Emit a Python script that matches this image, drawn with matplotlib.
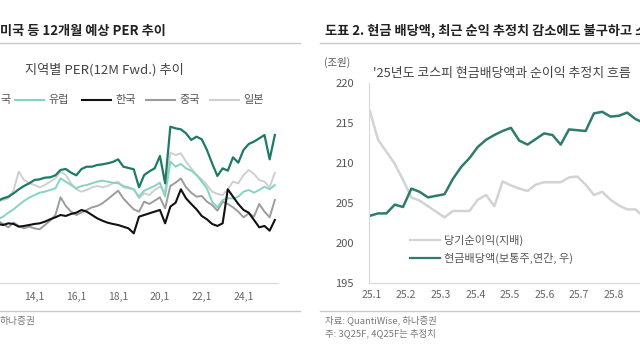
import matplotlib
matplotlib.use("Agg")
import matplotlib.pyplot as plt
from matplotlib.lines import Line2D
import numpy as np
import pandas as pd

plt.rcParams['font.family'] = ['Noto Sans CJK KR', 'DejaVu Sans']

# ---- left chart: 12M forward PER by region (quarterly, from 2012.2Q) ----
per_us = [12.29, 12.58, 12.79, 13.21, 13.71, 14.13, 14.46, 14.88, 14.96, 15.17, 15.21, 15.46,
          16.13, 16.25, 15.79, 15.46, 16.25, 16.54, 16.54, 16.75, 16.83, 16.96, 17.13, 17.46,
          16.54, 16.38, 16.21, 13.96, 15.50, 15.96, 16.33, 17.88, 14.46, 21.54, 21.33, 21.21,
          20.71, 19.88, 20.29, 19.96, 18.63, 16.96, 15.38, 16.33, 16.04, 17.71, 17.04, 18.63,
          19.38, 19.67, 20.08, 20.50, 17.46, 20.50]
per_eu = [9.96, 10.29, 10.79, 11.21, 11.75, 12.25, 12.67, 13.00, 13.29, 13.42, 13.63, 13.83,
          15.08, 14.67, 14.25, 13.83, 14.13, 14.25, 14.46, 14.67, 14.79, 14.67, 14.54, 14.46,
          14.13, 13.96, 13.71, 12.79, 13.54, 13.83, 14.13, 14.54, 12.79, 17.17, 16.54, 16.88,
          16.33, 16.04, 15.50, 14.67, 13.83, 12.17, 11.46, 12.38, 12.58, 12.58, 12.79, 13.42,
          13.63, 13.29, 13.63, 14.04, 13.71, 14.25]
per_kr = [9.38, 9.25, 9.46, 9.38, 9.04, 9.13, 9.25, 9.38, 9.46, 9.67, 9.96, 10.21,
          10.50, 10.38, 10.63, 10.79, 11.13, 10.92, 10.50, 10.08, 9.79, 9.54, 9.38, 9.25,
          9.04, 8.83, 8.21, 10.29, 10.50, 10.71, 10.92, 11.13, 9.46, 11.54, 12.04, 13.71,
          12.58, 11.88, 11.21, 10.38, 9.96, 9.38, 9.13, 9.46, 13.71, 12.79, 11.88, 11.13,
          10.79, 9.88, 8.96, 9.13, 8.54, 9.88]
per_cn = [9.79, 9.38, 8.96, 9.54, 9.13, 8.83, 9.04, 8.83, 8.71, 9.25, 9.79, 10.50,
          12.71, 11.63, 10.92, 10.50, 10.79, 11.13, 11.46, 11.63, 11.96, 12.46, 13.00, 13.54,
          12.58, 11.88, 11.21, 10.92, 12.17, 11.88, 12.29, 12.71, 11.33, 14.13, 14.54, 15.08,
          13.96, 13.29, 12.79, 12.88, 12.17, 11.75, 11.04, 12.17, 11.88, 11.46, 10.92, 10.21,
          10.71, 10.29, 11.88, 10.92, 10.21, 12.38]
per_jp = [12.17, 12.38, 12.58, 13.63, 15.92, 14.88, 14.46, 14.25, 13.96, 14.25, 14.67, 15.08,
          15.92, 15.50, 14.46, 13.71, 13.42, 13.63, 13.96, 14.13, 13.96, 14.13, 14.46, 14.67,
          13.96, 13.83, 13.71, 12.58, 13.21, 13.00, 13.63, 14.04, 13.42, 18.29, 18.00, 18.21,
          17.17, 16.33, 15.50, 14.96, 14.25, 13.42, 13.13, 13.00, 13.71, 14.67, 14.46, 15.50,
          16.13, 15.63, 14.88, 14.67, 13.96, 15.79]
region_names = ['유럽', '한국', '중국', '일본']
left_ticks = ['14,1', '16,1', '18,1', '20,1', '22,1', '24,1']

# ---- right chart: 2025 KOSPI estimates, weekly (조원) ----
net_income = [216.5, 212.9, 211.4, 209.9, 207.9, 205.7, 205.3, 204.6, 203.9, 203.2, 204.0, 204.0,
              204.0, 205.4, 206.0, 204.6, 207.7, 207.2, 206.8, 206.5, 207.3, 207.6, 207.6, 207.6,
              208.2, 208.3, 207.3, 206.0, 206.4, 205.4, 204.7, 204.2, 204.2, 203.3]
dividend = [203.4, 203.7, 203.7, 204.8, 204.5, 206.8, 206.4, 205.7, 205.9, 206.1, 208.0, 209.5,
            210.6, 212.0, 212.9, 213.5, 214.0, 214.4, 212.8, 212.3, 213.0, 213.7, 213.5, 212.3,
            214.2, 214.1, 214.0, 216.2, 216.4, 215.8, 215.9, 216.3, 215.5, 215.0]
right_ticks = ['25.1', '25.2', '25.3', '25.4', '25.5', '25.6', '25.7', '25.8']

c_us, c_eu, c_kr, c_cn, c_jp = '#1d7a68', '#86d3c4', '#111111', '#9c9c9c', '#cfcfcf'
c_div, c_ni = '#2f7b6d', '#d3d3d3'
txt = '#555555'

W, H = 640, 360
fig = plt.figure(figsize=(6.4, 3.6), dpi=100, facecolor='white')


def fx(x):
    return x / W


def fy(y):
    return 1 - y / H


def hline(x0, x1, y, color, lw):
    fig.add_artist(Line2D([fx(x0), fx(x1)], [fy(y), fy(y)], color=color, lw=lw,
                          transform=fig.transFigure))


# titles and separators
fig.text(fx(0), fy(31), '미국 등 12개월 예상 PER 추이', fontsize=9.5, fontweight='bold',
         color='#222222', va='center', ha='left')
fig.text(fx(325), fy(31), '도표 2. 현금 배당액, 최근 순익 추정치 감소에도 불구하고 소',
         fontsize=9.5, fontweight='bold', color='#222222', va='center', ha='left')
for x0, x1 in [(0, 300), (320, 640)]:
    hline(x0, x1, 43, '#c8c8c8', 1.0)
    hline(x0, x1, 311, '#c8c8c8', 1.0)

# ---- left chart ----
dates = pd.date_range('2012-04-01', periods=len(per_us), freq='QS')
ax1 = fig.add_axes([0, fy(283), 278 / W, 173 / H])
ax1.plot(dates, per_jp, color=c_jp, lw=1.4)
ax1.plot(dates, per_cn, color=c_cn, lw=1.4)
ax1.plot(dates, per_eu, color=c_eu, lw=1.4)
ax1.plot(dates, per_kr, color=c_kr, lw=1.5)
ax1.plot(dates, per_us, color=c_us, lw=1.6)
ax1.set_xlim(pd.Timestamp('2012-05-08'), pd.Timestamp('2025-08-25'))
ax1.set_ylim(2, 2 + 173 / 8)
ax1.set_xticks([pd.Timestamp(f'20{t[:2]}-01-01') for t in left_ticks])
ax1.set_xticklabels(left_ticks)
ax1.set_yticks([])
ax1.tick_params(axis='x', length=0, pad=6.5, labelsize=7.5, labelcolor='#666666')
for s in ['top', 'left', 'right']:
    ax1.spines[s].set_visible(False)
ax1.spines['bottom'].set_color('#d9d9d9')
ax1.spines['bottom'].set_linewidth(0.8)

fig.text(fx(25), fy(70), '지역별 PER(12M Fwd.) 추이', fontsize=9.5, color='#444444',
         va='center', ha='left')
fig.text(fx(0), fy(100), '국', fontsize=8, color=txt, va='center', ha='left')
leg_items = [(15, c_eu), (82, c_kr), (146, c_cn), (210, c_jp)]
for (x0, col), name in zip(leg_items, region_names):
    hline(x0, x0 + 29, 100, col, 1.5)
    fig.text(fx(x0 + 33), fy(100), name, fontsize=8, color=txt, va='center', ha='left')
fig.text(fx(0), fy(321), '하나증권', fontsize=7, color='#777777', va='center', ha='left')

# ---- right chart ----
weeks = np.arange(len(dividend))
ax2 = fig.add_axes([369 / W, fy(283), 300 / W, 200 / H])
ax2.plot(weeks, net_income, color=c_ni, lw=1.8)
ax2.plot(weeks, dividend, color=c_div, lw=1.8)
ax2.set_xlim(-0.1, -0.1 + 300 / 8.3)
ax2.set_ylim(195, 220)
ax2.set_yticks(np.arange(195, 221, 5))
ax2.set_xticks(0.2 + 4.17 * np.arange(len(right_ticks)))
ax2.set_xticklabels(right_ticks)
ax2.tick_params(axis='y', length=0, pad=11, labelsize=8, labelcolor=txt)
ax2.tick_params(axis='x', length=0, pad=5, labelsize=7.5, labelcolor='#666666')
for s in ['top', 'right']:
    ax2.spines[s].set_visible(False)
for s in ['left', 'bottom']:
    ax2.spines[s].set_color('#d9d9d9')
    ax2.spines[s].set_linewidth(0.8)

fig.text(fx(337), fy(62), '(조원)', fontsize=7.5, color=txt, va='center', ha='center')
fig.text(fx(373), fy(73), "'25년도 코스피 현금배당액과 순이익 추정치 흐름", fontsize=9.3,
         color='#444444', va='center', ha='left')
hline(410, 440, 240, c_ni, 1.6)
fig.text(fx(444), fy(240), '당기순이익(지배)', fontsize=8, color=txt, va='center', ha='left')
hline(410, 440, 258, c_div, 1.6)
fig.text(fx(444), fy(258), '현금배당액(보통주,연간, 우)', fontsize=8, color=txt,
         va='center', ha='left')
fig.text(fx(325), fy(320), '자료: QuantiWise, 하나증권', fontsize=6.8, color='#777777',
         va='center', ha='left')
fig.text(fx(325), fy(333), '주: 3Q25F, 4Q25F는 추정치', fontsize=6.8, color='#777777',
         va='center', ha='left')

fig.savefig('out.png', dpi=100, facecolor='white')
